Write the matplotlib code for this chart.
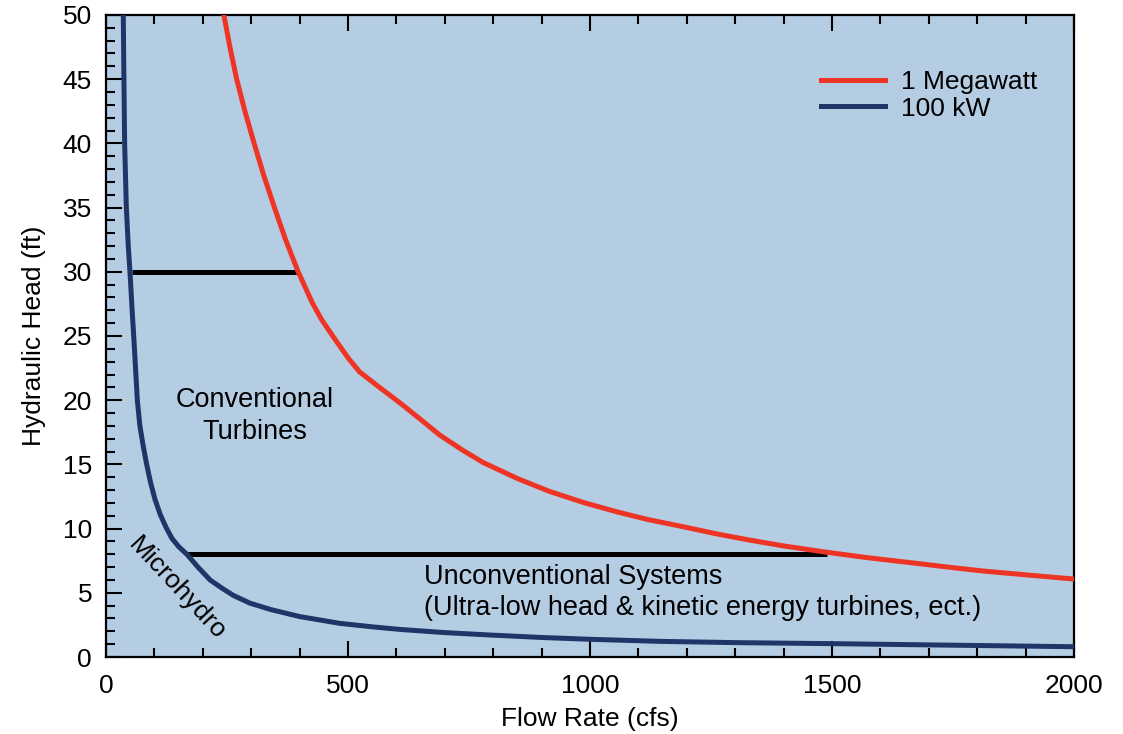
import matplotlib
matplotlib.use("Agg")
import matplotlib.pyplot as plt
from matplotlib.ticker import MultipleLocator

plt.rcParams['font.family'] = ['Liberation Sans', 'DejaVu Sans']

# 1 Megawatt curve (flow cfs, head ft)
mw_flow = [243.5, 256, 270, 287, 306, 326, 348, 371, 397, 426, 445, 472, 500, 524, 565, 607, 650, 689, 735,
           779, 850, 916, 985, 1054, 1120, 1192, 1260, 1329, 1400, 1481, 1570, 1673, 1740, 1811, 1900, 2000]
mw_head = [50.0, 47.5, 45.0, 42.5, 40.0, 37.5, 35.0, 32.5, 30.0, 27.6, 26.3, 24.8, 23.3, 22.2, 21.0, 19.8, 18.5, 17.3, 16.15,
           15.15, 13.9, 12.9, 12.05, 11.32, 10.7, 10.15, 9.6, 9.11, 8.65, 8.2, 7.75, 7.3, 7.0, 6.7, 6.4, 6.07]

# 100 kW curve
kw_flow = [35.7, 37, 38.5, 42, 46, 49.5, 54, 58, 64.7, 70, 77, 84, 92, 101, 112, 124, 136, 150, 167, 190, 215,
           240, 263, 297, 340, 400, 483, 550, 607, 700, 800, 900, 1000, 1143, 1300, 1500, 1750, 2000]
kw_head = [50.0, 45.0, 40.0, 35.0, 32.0, 30.0, 27.0, 24.5, 20.0, 18.0, 16.4, 15.0, 13.6, 12.3, 11.1, 10.1, 9.25, 8.6, 8.0, 7.0, 6.0,
           5.35, 4.8, 4.2, 3.7, 3.15, 2.62, 2.35, 2.15, 1.9, 1.7, 1.52, 1.38, 1.22, 1.12, 1.04, 0.92, 0.8]

# Boundary lines between regions
upper_bound_head = 30
upper_bound_flow = [54, 397]
lower_bound_head = 8
lower_bound_flow = [167, 1490]

red = "#ee3424"
navy = "#1f3568"
bg = "#b5cde3"

fig = plt.figure(figsize=(11.23, 7.34), dpi=100)
ax = fig.add_axes([0.0944, 0.1049, 0.862, 0.8747])
ax.set_facecolor(bg)

ax.plot(upper_bound_flow, [upper_bound_head] * 2, color="black", lw=3.6, solid_capstyle="butt", zorder=2)
ax.plot(lower_bound_flow, [lower_bound_head] * 2, color="black", lw=3.6, solid_capstyle="butt", zorder=2)
ax.plot(mw_flow, mw_head, color=red, lw=3.6, label="1 Megawatt", zorder=3, solid_joinstyle="round")
ax.plot(kw_flow, kw_head, color=navy, lw=3.6, label="100 kW", zorder=3, solid_joinstyle="round")

ax.set_xlim(0, 2000)
ax.set_ylim(0, 50)
ax.xaxis.set_major_locator(MultipleLocator(500))
ax.xaxis.set_minor_locator(MultipleLocator(100))
ax.yaxis.set_major_locator(MultipleLocator(5))
ax.yaxis.set_minor_locator(MultipleLocator(1))
ax.tick_params(which="both", direction="in", top=True, right=False, width=1.5, labelsize=19, color="black")
ax.tick_params(which="major", length=11.5)
ax.tick_params(which="minor", length=6.5)
ax.tick_params(axis="x", which="major", pad=12)
ax.tick_params(axis="y", which="major", pad=10)
for s in ax.spines.values():
    s.set_linewidth(1.6)

ax.set_xlabel("Flow Rate (cfs)", fontsize=19, labelpad=7)
ax.set_ylabel("Hydraulic Head (ft)", fontsize=19, labelpad=12)

ax.text(307, 18.8, "Conventional\nTurbines", fontsize=19.5, ha="center", va="center", linespacing=1.3)
ax.text(658, 5.06, "Unconventional Systems\n(Ultra-low head & kinetic energy turbines, ect.)",
        fontsize=19.5, ha="left", va="center", linespacing=1.25)
ax.text(146, 5.3, "Microhydro", fontsize=19, rotation=-47, ha="center", va="center", rotation_mode="anchor")

leg = ax.legend(loc="upper left", bbox_to_anchor=(0.72, 0.943), frameon=False, fontsize=19,
                handlelength=2.4, handletextpad=0.6, labelspacing=0.1, borderpad=0.2)

fig.savefig("out.png", dpi=100)
